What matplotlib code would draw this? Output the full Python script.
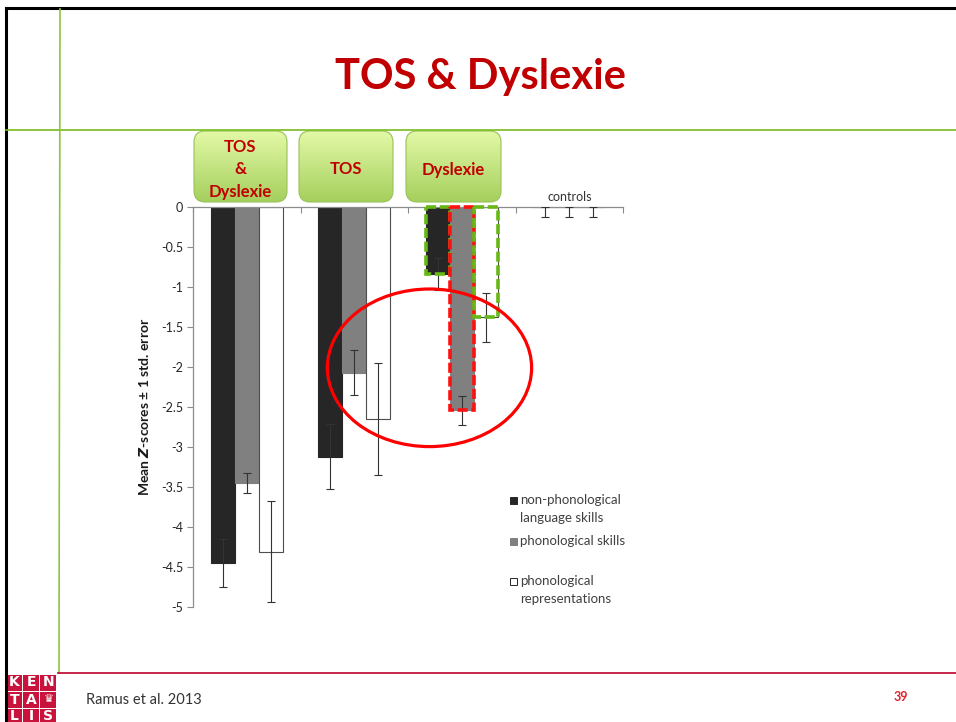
import numpy as np
import matplotlib
matplotlib.use("Agg")
import matplotlib.pyplot as plt
from matplotlib.patches import Rectangle, FancyBboxPatch, Ellipse
from matplotlib.lines import Line2D
from matplotlib.colors import LinearSegmentedColormap

plt.rcParams['font.family'] = ['Lato', 'DejaVu Sans']
plt.rcParams['axes.unicode_minus'] = False

# data
groups = ['TOS & Dyslexie', 'TOS', 'Dyslexie', 'controls']
series = ['non-phonological\nlanguage skills', 'phonological skills', 'phonological\nrepresentations']
nonphon = [-4.45, -3.12, -0.84, 0.0]
phon = [-3.45, -2.07, -2.54, 0.0]
reprs = [-4.31, -2.65, -1.38, 0.0]
err_nonphon = [0.30, 0.41, 0.20, 0.12]
err_phon = [0.13, 0.28, 0.18, 0.12]
err_reprs = [0.63, 0.70, 0.31, 0.12]
box_labels = ['TOS\n&\nDyslexie', 'TOS', 'Dyslexie']
yticks = [0, -0.5, -1, -1.5, -2, -2.5, -3, -3.5, -4, -4.5, -5]
ytick_labels = ['0', '-0.5', '-1', '-1.5', '-2', '-2.5', '-3', '-3.5', '-4', '-4.5', '-5']

W, H = 956, 722
fig = plt.figure(figsize=(W / 100, H / 100), dpi=100)

def fx(px):
    return px / W

def fy(py):
    return 1 - py / H

# slide frame
line_kw = dict(transform=fig.transFigure)
fig.add_artist(Line2D([fx(6), 1], [fy(8), fy(8)], color='black', lw=2.2, **line_kw))
fig.add_artist(Line2D([fx(6), fx(6)], [fy(8), 0], color='black', lw=2.2, **line_kw))
fig.add_artist(Line2D([fx(6), 1], [fy(130), fy(130)], color='#78bb1e', lw=1.2, **line_kw))
fig.add_artist(Line2D([fx(60), fx(59)], [fy(9), fy(673)], color='#8cc63f', lw=1.2, **line_kw))
fig.add_artist(Line2D([fx(58), 1], [fy(673), fy(673)], color='#c0143c', lw=1.3, **line_kw))

fig.text(fx(481), fy(77), 'TOS & Dyslexie', ha='center', va='center',
         fontsize=30, fontweight='bold', color='#c00000')

# chart
ax = fig.add_axes([fx(193), fy(607), fx(623) - fx(193), fy(207) - fy(607)])
x = np.arange(len(groups)) + 0.5
w = 24 / 107.5
data = [nonphon, phon, reprs]
errs = [err_nonphon, err_phon, err_reprs]
fills = ['#262626', '#808080', 'white']
edges = ['#262626', '#808080', '#4d4d4d']
bars = []
for k in range(3):
    xs = x + (k - 1) * w
    b = ax.bar(xs, data[k], width=w, color=fills[k], edgecolor=edges[k], linewidth=0.8,
               label=series[k], zorder=2)
    bars.append(b)
    lower = errs[k]
    upper = [e if v < 0 else 0 for e, v in zip(errs[k], data[k])]
    ax.errorbar(xs, data[k], yerr=[lower, upper], fmt='none', ecolor='#333333',
                elinewidth=0.8, capsize=2.8, capthick=0.8, zorder=3)

ax.set_xlim(0, 4)
ax.set_ylim(-5, 0)
for s in ['right', 'bottom']:
    ax.spines[s].set_visible(False)
for s in ['left', 'top']:
    ax.spines[s].set_color('#8c8c8c')
    ax.spines[s].set_linewidth(0.9)
ax.xaxis.tick_top()
ax.set_xticks(np.arange(len(groups) + 1))
ax.tick_params(axis='x', direction='in', length=4, color='#8c8c8c', labeltop=False)
ax.set_yticks(yticks)
ax.set_yticklabels(ytick_labels)
ax.tick_params(axis='y', direction='out', length=4, color='#8c8c8c', labelsize=9,
               labelcolor='#262626', pad=3)
ax.set_ylabel(r'Mean $\mathbfit{Z}$-scores ± 1 std. error', fontsize=10, fontweight='bold',
              color='#1a1a1a', labelpad=7)
ax.text(x[3], 0.05, groups[3], ha='center', va='bottom', fontsize=9, color='#333333')

# highlighted bars in the Dyslexie group
hl_colors = ['#66b814', '#ff1010', '#66b814']
for k in range(3):
    r = bars[k][2]
    ax.add_patch(Rectangle((r.get_x(), r.get_y()), r.get_width(), r.get_height(),
                           fill=False, ec=hl_colors[k], lw=2.6,
                           linestyle=(0, (2.8, 1.0)), zorder=4, clip_on=False))
ax.add_patch(Ellipse((2.2, -2.01), 1.9, 1.97, fill=False, ec='#ff0000', lw=2.3,
                     zorder=5, clip_on=False))

# legend
leg_y = [500, 541, 581]
for k in range(3):
    fig.add_artist(Rectangle((fx(510), fy(leg_y[k] + 3.5)), fx(7), 7 / H, transform=fig.transFigure,
                             fc=fills[k], ec='#262626' if k != 1 else '#808080', lw=0.7))
    fig.text(fx(520), fy(leg_y[k] - 6), series[k], ha='left', va='top', fontsize=9.5,
             color='#404040', linespacing=1.6)

# group label boxes
cmap = LinearSegmentedColormap.from_list('g', ['#a4cf5c', '#e4f9a8'])
grad = np.linspace(0, 1, 64).reshape(-1, 1)
boxes = [(193, 288), (298, 394), (405, 502)]
for (x0, x1), lab in zip(boxes, box_labels):
    bw, bh = x1 - x0, 73
    bax = fig.add_axes([fx(x0), fy(130 + bh), bw / W, bh / H])
    bax.set_xlim(0, bw)
    bax.set_ylim(0, bh)
    bax.axis('off')
    im = bax.imshow(grad, extent=[0, bw, 0, bh], origin='lower', cmap=cmap, aspect='auto')
    p = FancyBboxPatch((1, 1), bw - 2, bh - 2, boxstyle='round,pad=0,rounding_size=11',
                       fc='none', ec='#98c258', lw=0.8)
    bax.add_patch(p)
    im.set_clip_path(p)
    bax.text(bw / 2, bh / 2 - 3, lab, ha='center', va='center', fontsize=12, fontweight='bold',
             color='#c00000', linespacing=1.5)

# footer: logo, reference, page number
red = '#c8143c'
letters = [['K', 'E', 'N'], ['T', 'A', '\u265b'], ['L', 'I', 'S']]
cell = 17
for r in range(3):
    for c in range(3):
        cx0, cy0 = 6 + c * cell, 674 + r * cell
        fig.add_artist(Rectangle((fx(cx0), fy(cy0 + cell)), fx(cell - 1), (cell - 1) / H,
                                 transform=fig.transFigure, fc=red, ec='none'))
        fig.text(fx(cx0 + cell / 2), fy(cy0 + cell / 2), letters[r][c], ha='center', va='center',
                 fontsize=10 if letters[r][c] != '\u265b' else 8, color='white',
                 fontweight='bold', family=['DejaVu Sans'])
fig.text(fx(86), fy(700), 'Ramus et al. 2013', ha='left', va='center', fontsize=10.5,
         color='#333333')
fig.text(fx(901), fy(697), '39', ha='center', va='center', fontsize=9, fontweight='bold',
         color='#e0202a')

plt.savefig('out.png', dpi=100)
